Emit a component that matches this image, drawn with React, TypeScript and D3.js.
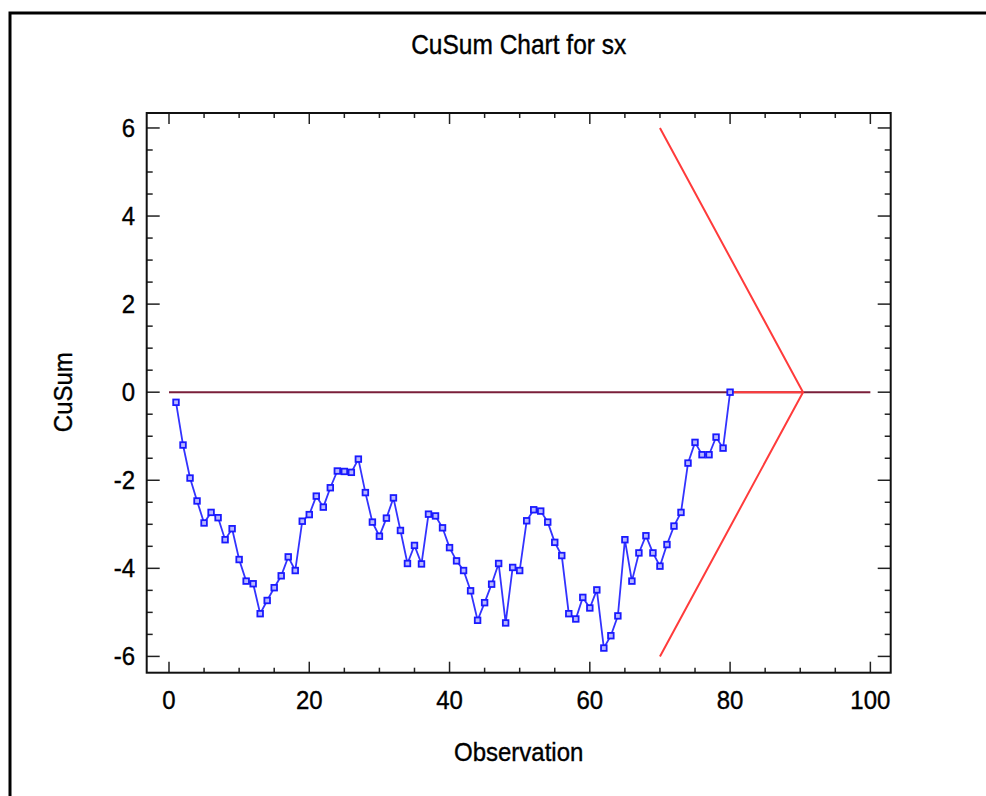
import React, { useEffect, useRef } from 'react';
import * as d3 from 'd3';

// cusum values for observations 1..80
const cusum = [
  -0.23, -1.2, -1.95, -2.47, -2.97, -2.73, -2.85, -3.35, -3.1, -3.8,
  -4.29, -4.35, -5.03, -4.73, -4.44, -4.17, -3.74, -4.05, -2.93, -2.78,
  -2.36, -2.61, -2.17, -1.79, -1.8, -1.82, -1.52, -2.28, -2.95, -3.27,
  -2.86, -2.4, -3.14, -3.89, -3.48, -3.9, -2.77, -2.81, -3.08, -3.53,
  -3.83, -4.05, -4.51, -5.18, -4.78, -4.36, -3.89, -5.24, -3.98, -4.05,
  -2.92, -2.67, -2.7, -2.95, -3.41, -3.71, -5.03, -5.15, -4.66, -4.9,
  -4.49, -5.81, -5.53, -5.08, -3.35, -4.29, -3.65, -3.26, -3.65, -3.95,
  -3.46, -3.04, -2.73, -1.61, -1.14, -1.42, -1.42, -1.02, -1.27, 0.0,
];
const observations = cusum.map((_, i) => i + 1);

// V-mask arms and center line
const maskX = [70, 90.4, 70];
const maskY = [6, 0, -6];
const maskLeadX = [80, 90.4];
const centerX = [0, 100];

const xTicks = [0, 20, 40, 60, 80, 100];
const yTicks = [-6, -4, -2, 0, 2, 4, 6];

const App = () => {
  const svgRef = useRef<SVGSVGElement>(null);

  useEffect(() => {
    const width = 986;
    const height = 796;
    const left = 146.7, right = 890.7, top = 113, bottom = 672.7;
    const font = '"Liberation Sans", Arial, sans-serif';

    const svg = d3.select(svgRef.current)
      .attr('width', width)
      .attr('height', height);
    svg.selectAll('*').remove();

    const x = d3.scaleLinear().domain([-3.18, 102.9]).range([left, right]);
    const y = d3.scaleLinear().domain([-6.37, 6.34]).range([bottom, top]);

    // text slightly taller than the font, a bit heavier
    const label = (tx: number, ty: number, txt: string, anchor: string, size: number, rot = 0) =>
      svg.append('text')
        .attr('transform', `translate(${tx},${ty}) rotate(${rot}) scale(1,1.1)`)
        .attr('text-anchor', anchor)
        .attr('stroke', '#000').attr('stroke-width', 0.35)
        .style('font-family', font).style('font-size', `${size}px`)
        .text(txt);

    // outer frame (runs off the right/bottom)
    svg.append('rect')
      .attr('x', 10).attr('y', 13)
      .attr('width', 1100).attr('height', 900)
      .attr('fill', 'white')
      .attr('stroke', 'black')
      .attr('stroke-width', 3);

    label((left + right) / 2, 54, 'CuSum Chart for sx', 'middle', 24.5);

    // ticks inside on all four sides
    const minorX = d3.range(0, 101, 5);
    const minorY = d3.range(-6, 6.01, 0.5);
    const tk = svg.append('g').attr('stroke', '#222').attr('stroke-width', 1.5);
    minorX.forEach(v => {
      const len = v % 20 === 0 ? 11 : 5;
      tk.append('line').attr('x1', x(v)).attr('x2', x(v)).attr('y1', bottom).attr('y2', bottom - len);
      tk.append('line').attr('x1', x(v)).attr('x2', x(v)).attr('y1', top).attr('y2', top + len);
    });
    minorY.forEach(v => {
      const len = Math.abs(v % 2) < 1e-9 ? 13 : 6;
      tk.append('line').attr('x1', left).attr('x2', left + len).attr('y1', y(v)).attr('y2', y(v));
      tk.append('line').attr('x1', right).attr('x2', right - len).attr('y1', y(v)).attr('y2', y(v));
    });

    svg.append('rect')
      .attr('x', left).attr('y', top)
      .attr('width', right - left).attr('height', bottom - top)
      .attr('fill', 'none')
      .attr('stroke', '#111')
      .attr('stroke-width', 2);

    xTicks.forEach(d => label(x(d), 709, String(d), 'middle', 24));
    yTicks.forEach(d => label(135, y(d) + 8.8, String(d), 'end', 24));

    label((left + right) / 2, 761, 'Observation', 'middle', 24);
    label(72, y(0), 'CuSum', 'middle', 24, -90);

    // center line
    svg.append('line')
      .attr('x1', x(centerX[0])).attr('x2', x(centerX[1]))
      .attr('y1', y(0)).attr('y2', y(0))
      .attr('stroke', '#7a1f3a').attr('stroke-width', 2);

    // V-mask
    const line = d3.line<number>().x((d, i) => x(maskX[i])).y(d => y(d));
    svg.append('path')
      .attr('d', line(maskY))
      .attr('fill', 'none').attr('stroke', '#ff3b3b').attr('stroke-width', 2);
    svg.append('line')
      .attr('x1', x(maskLeadX[0])).attr('x2', x(maskLeadX[1]))
      .attr('y1', y(0)).attr('y2', y(0))
      .attr('stroke', '#ff3b3b').attr('stroke-width', 2);

    // cusum series
    const series = d3.line<number>().x((d, i) => x(observations[i])).y(d => y(d));
    svg.append('path')
      .attr('d', series(cusum))
      .attr('fill', 'none').attr('stroke', '#3333ff').attr('stroke-width', 1.8);

    svg.append('g').selectAll('rect')
      .data(cusum).enter().append('rect')
      .attr('x', (d, i) => x(observations[i]) - 2.8)
      .attr('y', d => y(d) - 2.8)
      .attr('width', 5.6).attr('height', 5.6)
      .attr('fill', '#b8b8ff')
      .attr('stroke', '#1a1aff')
      .attr('stroke-width', 1.8);
  }, []);

  return (
    <svg ref={svgRef} style={{ position: 'absolute', left: 0, top: 0 }}></svg>
  );
};

export default App;
